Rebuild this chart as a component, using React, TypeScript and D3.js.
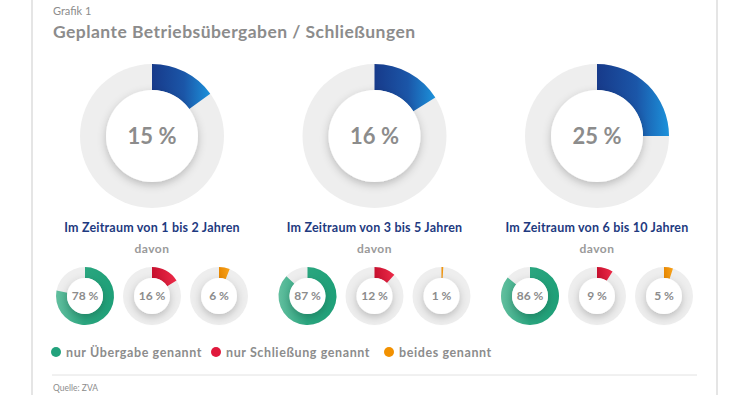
import React from 'react';
import * as d3 from 'd3';

const periods = ['Im Zeitraum von 1 bis 2 Jahren', 'Im Zeitraum von 3 bis 5 Jahren', 'Im Zeitraum von 6 bis 10 Jahren'];
const totalShares = [15, 16, 25];
const uebergabe = [78, 87, 86];
const schliessung = [16, 12, 9];
const beides = [6, 1, 5];
const legendLabels = ['nur Übergabe genannt', 'nur Schließung genannt', 'beides genannt'];
const legendColors = ['#22a27c', '#e0193c', '#f29100'];

const W = 750;
const H = 395;
const font = 'Lato, "Open Sans", sans-serif';

const pie = d3.pie<number>().sort(null).value(d => d);
const groupX = d3.scalePoint<number>().domain([0, 1, 2]).range([152, 597]);
const smallX = d3.scalePoint<number>().domain([0, 1, 2]).range([-67, 67]);

const Donut = ({cx, cy, r0, r1, value, fill, size}) => {
  const arcs = pie([value, 100 - value]);
  const arc = d3.arc<d3.PieArcDatum<number>>().innerRadius(r0).outerRadius(r1);
  return (
    <g transform={`translate(${cx},${cy})`}>
      <circle r={r1} fill="#eeeeee" />
      <path d={arc(arcs[0]) || ''} fill={fill} />
      <circle r={r0} fill="#ffffff" filter="url(#shadow)" />
      <text
        y={size * 0.36}
        textAnchor="middle"
        fontFamily={font}
        fontWeight={700}
        fontSize={size}
        fill="#8c8c8c"
      >
        {`${value} %`}
      </text>
    </g>
  );
};

const App = () => {
  const series = [uebergabe, schliessung, beides];
  const fills = ['url(#gGreen)', 'url(#gRed)', 'url(#gOrange)'];
  const legendX = [56, 216, 389];
  return (
    <svg width={W} height={H} style={{position: 'absolute', left: 0, top: 0, background: '#fff'}}>
      <defs>
        <linearGradient id="gBlue" x1="0" x2="1" y1="0" y2="0">
          <stop offset="0" stopColor="#173a8a" />
          <stop offset="0.55" stopColor="#1b56a8" />
          <stop offset="1" stopColor="#1c92db" />
        </linearGradient>
        <linearGradient id="gGreen" x1="0" x2="1" y1="0" y2="0">
          <stop offset="0" stopColor="#62bf9f" />
          <stop offset="0.5" stopColor="#2aa67f" />
          <stop offset="1" stopColor="#1ea078" />
        </linearGradient>
        <linearGradient id="gRed" x1="0" x2="1" y1="0" y2="0">
          <stop offset="0" stopColor="#c8102e" />
          <stop offset="1" stopColor="#ec2a48" />
        </linearGradient>
        <linearGradient id="gOrange" x1="0" x2="1" y1="0" y2="0">
          <stop offset="0" stopColor="#e98800" />
          <stop offset="1" stopColor="#f7a21c" />
        </linearGradient>
        <filter id="shadow" x="-40%" y="-40%" width="180%" height="180%">
          <feDropShadow dx="0" dy="3" stdDeviation="4" floodColor="#000" floodOpacity="0.22" />
        </filter>
      </defs>

      <line x1={32} x2={32} y1={0} y2={H} stroke="#dcdcdc" strokeWidth={1.5} />
      <line x1={717} x2={717} y1={0} y2={H} stroke="#dcdcdc" strokeWidth={1.5} />

      <text x={53} y={15} fontFamily={font} fontSize={11} fill="#8c8c8c">Grafik 1</text>
      <text x={53} y={38} fontFamily={font} fontWeight={700} fontSize={17.5} letterSpacing={0.45} fill="#8c8c8c">
        Geplante Betriebsübergaben / Schließungen
      </text>

      {periods.map((p, i) => {
        const gx = groupX(i) as number;
        return (
          <g key={p}>
            <Donut cx={gx} cy={136} r0={46} r1={72} value={totalShares[i]} fill="url(#gBlue)" size={22} />
            <text x={gx} y={232} textAnchor="middle" fontFamily={font} fontWeight={700} fontSize={12.5} letterSpacing={0.2} fill="#1e3a80">
              {p}
            </text>
            <text x={gx} y={253} textAnchor="middle" fontFamily={font} fontWeight={700} fontSize={12} letterSpacing={0.5} fill="#9a9a9a">
              davon
            </text>
            {series.map((s, j) => (
              <Donut
                key={j}
                cx={gx + (smallX(j) as number)}
                cy={296}
                r0={18}
                r1={29}
                value={s[i]}
                fill={fills[j]}
                size={12}
              />
            ))}
          </g>
        );
      })}

      {legendLabels.map((l, i) => (
        <g key={l} transform={`translate(${legendX[i]},352)`}>
          <circle r={5} fill={legendColors[i]} />
          <text x={10} y={4.5} fontFamily={font} fontWeight={700} fontSize={12.5} letterSpacing={0.6} fill="#8c8c8c">{l}</text>
        </g>
      ))}

      <line x1={52} x2={697} y1={375} y2={375} stroke="#e2e2e2" strokeWidth={1} />
      <text x={53} y={391} fontFamily={font} fontSize={8.5} fill="#8c8c8c">Quelle: ZVA</text>
    </svg>
  );
};

export default App;
